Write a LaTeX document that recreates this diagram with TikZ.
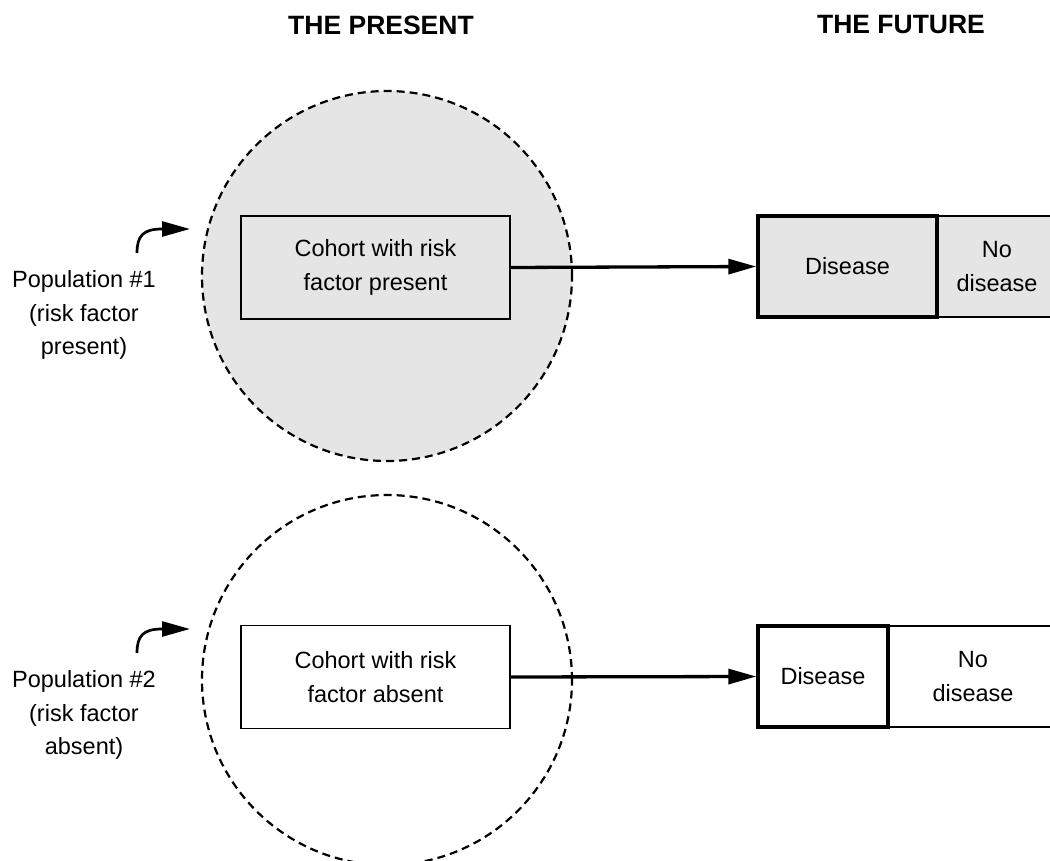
\documentclass[tikz,border=0pt]{standalone}
\usepackage{fontspec}
\setmainfont{Liberation Sans}
\usetikzlibrary{arrows.meta}
\definecolor{shade}{HTML}{E5E5E5}
\begin{document}
\begin{tikzpicture}[x=1pt,y=-1pt,
  txt/.style={font=\fontsize{23.5}{33.5}\selectfont, align=center, inner sep=0pt},
  head/.style={font=\bfseries\fontsize{26.5}{30}\selectfont, inner sep=0pt},
  cohort/.style={txt, draw, line width=1.6pt, minimum width=269pt, minimum height=103pt},
  dis/.style={txt, draw, line width=3.4pt, minimum height=101pt},
  nodis/.style={txt, draw, line width=1.3pt, minimum height=101pt},
  ring/.style={circle, draw, dash pattern=on 8pt off 5pt, line width=2.2pt, minimum size=370pt, inner sep=0pt},
  flow/.style={-{Triangle[length=28pt,width=15pt]}, line width=3.3pt},
  hook/.style={-{Triangle[length=28pt,width=15pt]}, line width=2.7pt}]
\clip (0,0) rectangle (1050,861);
\fill[white] (0,0) rectangle (1050,861);

% headers
\node[head] (hp) at (381,25) {THE PRESENT};
\node[head] (hf) at (901,25) {THE FUTURE};

% population 1
\node[ring, fill=shade] (r1) at (387,276) {};
\node[cohort] (c1) at (375.5,267.5) {Cohort with risk\\factor present};
\node[nodis, fill=shade, minimum width=120pt] (n1) at (997,266.5) {No\\disease};
\node[dis, fill=shade, minimum width=179pt] (d1) at (847.5,266.5) {Disease};
\draw[flow] (c1.east) -- (d1.west);
\node[txt] (p1) at (84,315) {Population \#1\\(risk factor\\present)};
\coordinate (s1) at (137,253);
\coordinate (t1) at (190,229);
\draw[hook] (s1) .. controls (137,236) and (143,229) .. (162,229) -- (t1);

% population 2
\node[ring] (r2) at (387,680) {};
\node[cohort] (c2) at (375.5,677) {Cohort with risk\\factor absent};
\node[nodis, minimum width=170pt] (n2) at (973,676.5) {No\\disease};
\node[dis, minimum width=130pt] (d2) at (823,676.5) {Disease};
\draw[flow] (c2.east) -- (d2.west);
\node[txt] (p2) at (84,715) {Population \#2\\(risk factor\\absent)};
\coordinate (s2) at (137,653);
\coordinate (t2) at (190,629);
\draw[hook] (s2) .. controls (137,636) and (143,629) .. (162,629) -- (t2);
\end{tikzpicture}
\end{document}
